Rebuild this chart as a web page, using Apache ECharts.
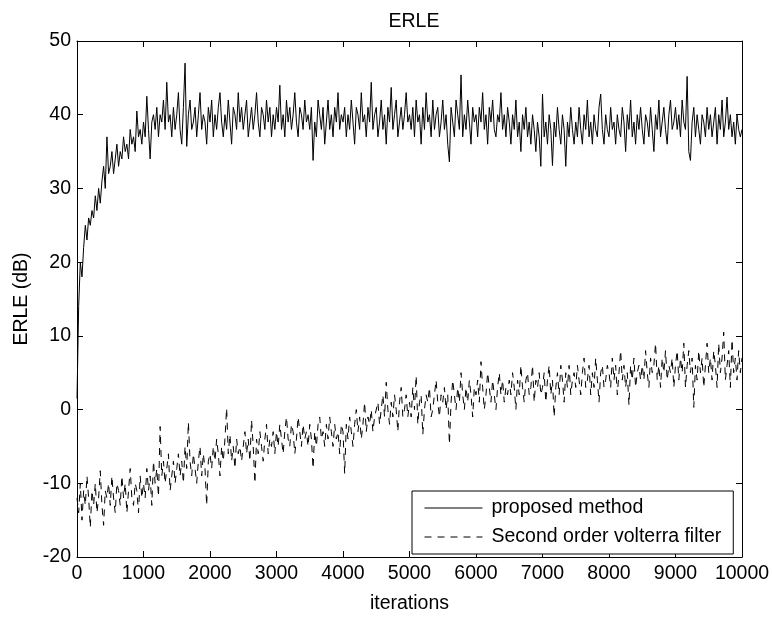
<!DOCTYPE html>
<html>
<head>
<meta charset="utf-8">
<script src="https://cdn.jsdelivr.net/npm/echarts@6/dist/echarts.min.js"></script>
<style>html,body{margin:0;padding:0;background:#fff}#c{width:773px;height:619px}</style>
</head>
<body>
<div id="c"></div>
<script>
// sampling step of the iterations axis
var iterStep = 25;
// proposed method ERLE (dB), one value every 25 iterations, 0..10000
var proposed = [
1.5,14,20,18,22,25,23,26,25,27,26,29,27,30,28,31,33,30,37,32,
33,35,32,34,36,33,35,34,37,35,36,34,38,36,37,35,40.5,37,38,36,
39,37,42.5,38,34,39,40,38,41,37,40,39,42,38,44.4,39,40,37,41,38,
40,43,38,36,41,47,35.7,40,42,38,39,41,37,40,43,38,40,39,36,41,
39,42,37,40,38,41,43,39,37,40,38,42,39,36,41,40,38,43,39,41,
38,40,42,37,39,41,38,40,43,39,37,41,40,38,42,39,41,37,40,38,
41,39,44,38,40,37,42,39,41,38,40,43,39,37,41,40,38,42,39,40,
38,41,33.8,39,37,42,40,38,41,36,39,42,38,40,37,41,39,43,38,40,
39,41,37,40,38,42,39,36,41,40,38,43,39,40,37,41,39,44.4,38,40,
41,37,39,42,38,40,36,41,39,43.7,38,40,42,37,39,41,38,40,43,39,
40,38,41,37,42,39,40,36,41,38,43,39,40,37,42,38,40,41,37,39,
42,38,40,36,33.6,41,39,37,42,40,38,45.4,37,40,38,42,39,36,41,39,
40,37,41,39,43,38,40,36,41,39,42,38,37,40,39,43,38,40,37,41,
39,36,40,38,42,37,39,35,40,38,41,37,39,36,40,38,35,39,37,33,
42.8,37,39,36,40,38,33.1,39,37,41,38,36,40,38,33,39,37,41,38,36,
39,37,41,38,36,40,38,42,37,39,36,40,38,37,41,42.8,38,36,40,38,
37,41,38,39,36,40,38,37,41,39,35,40,38,42,37,39,36,40,38,41,
38,36,40,39,37,41,38,35,40,38,42,37,39,41,38,36,40,42,38,39,
41,38,40,37,42,39,38,45.2,35,33.8,39,41,37,40,38,36,40,39,37,41,
38,40,37,39,41,36,40,38,42,37,39,42.4,38,40,37,39,36,40,38,37,
38
];
// second order volterra filter ERLE (dB), same sampling
var volterra = [
-12,-14,-10,-15,-11,-13,-9,-12,-16,-11,-13,-10,-14,-12,-8.3,-13,-15.7,-11,-12,-10,
-13,-9,-12,-14,-10,-11,-13,-9,-12,-10,-14,-11,-8,-12,-13,-10,-11,-14,-9,-12,
-10,-12,-8,-11,-9,-13,-7,-10,-8,-11.8,-2.3,-9,-7,-10,-8,-6,-11,-9,-7,-10,
-8,-6,-9,-7,-10,-5,-8,-1.7,-7,-9,-6,-8,-10,-7,-5,-9,-6,-8,-13,-7,
-6,-8,-5,-7,-4,-6,-9,-5,-7,-4,0.2,-6,-3.4,-7,-5,-8,-4,-6,-5,-7,
-5,-3,-6,-4,-7,-1.4,-5,-10,-4,-6,-3,-5,-7,-4,-2,-6,-4,-5,-3,-6,
-3,-5,-2,-4,-6,-3,-1,-4,-5,-2,-3,-6,-4,-1,-3,-5,-2,-4,-3,-5,
-2,-4,-8,-3,-5,-2,-1,-4,-3,-5,-2,-4,-1,-3,-5,-2,-4,-3,-6,-2,
-3,-8.7,-2,-4,-1,-3,-5,-2,0,-3,-1,-4,-2,1,-3,-1,-2,0,-3,-1,
-1,1,-2,0,2,-1,3.7,0,-2,1,-1,2,0,-3,1,3,-1,0,2,-1,
1,-1,3,0,4.6,-2,1,2,-3.4,0,2,1,3,-1,0,2,4,1,-1,2,
1,3,0,2,-4.7,1,4,2,0,3,1,5,2,0,3,1,4,2,-1,3,
2,4,1,6.5,3,0,2,5,3,1,4,2,0,3,5,2,4,1,3,2,
4,2,5,3,0,4,2,6,3,1,4,5,2,3,6,1,4,3,5,2,
3,5,1,4,6,2,4,-1,3,5,2,6,4,1,5,3,6,2,4,5,
3,6,4,2,5,7,3,4,6,2,5,3,7,4,1,5,6,3,4,6,
5,3,7,4,6,2,5,8,4,6,3,5,0.6,6,4,7,3,5,6,4,
6,4,8,5,3,7,5,6,9,4,6,3,7,5,8,4,6,5,7,3,
6,8,4,7,5,9,3,6,8,5,7,0.3,6,4,8,5,7,3,6,9,
5,7,4,8,6,3,9,5,7,10.5,4,6,8,3,9.5,5,7,4,8,5,
7
];
var seriesNames = ['proposed method', 'Second order volterra filter'];
var titleText = 'ERLE';
var xName = 'iterations';
var yName = 'ERLE (dB)';

function pairs(arr){ return arr.map(function(v,i){ return [i*iterStep, v]; }); }

var FONT = '"Liberation Sans", Arial, sans-serif';
var chart = echarts.init(document.getElementById('c'), null, {renderer:'canvas'});
var axisLineStyle = {color:'#000', width:1};
chart.setOption({
  animation:false,
  backgroundColor:'#fff',
  title:{text:titleText, left:409, top:7, textAlign:'center',
    textStyle:{fontFamily:FONT, fontSize:19.5, fontWeight:'normal', color:'#000'}},
  grid:{left:77, right:31, top:41, bottom:55, show:false},
  legend:{
    orient:'vertical', left:412, top:491,
    data:seriesNames,
    backgroundColor:'#fff', borderColor:'#000', borderWidth:1, borderRadius:0,
    padding:[7,12,7,12], itemGap:9, itemWidth:58, itemHeight:20,
    itemStyle:{opacity:0},
    lineStyle:{width:1},
    textStyle:{fontFamily:FONT, fontSize:19.5, color:'#000', padding:[0,0,0,4]}
  },
  xAxis:[{
    type:'value', min:0, max:10000, interval:1000, position:'bottom',
    name:xName, nameLocation:'middle', nameGap:37,
    nameTextStyle:{fontFamily:FONT, fontSize:19.5, color:'#000'},
    axisLine:{show:true, onZero:false, lineStyle:axisLineStyle},
    axisTick:{show:true, inside:true, length:6, lineStyle:axisLineStyle},
    axisLabel:{fontFamily:FONT, fontSize:19.5, color:'#000', margin:7,
      formatter:function(v){ return String(v); }},
    splitLine:{show:false}
  },{
    type:'value', min:0, max:10000, interval:1000, position:'top',
    axisLine:{show:true, onZero:false, lineStyle:axisLineStyle},
    axisTick:{show:true, inside:true, length:6, lineStyle:axisLineStyle},
    axisLabel:{show:false}, splitLine:{show:false}
  }],
  yAxis:[{
    type:'value', min:-20, max:50, interval:10, position:'left',
    name:yName, nameLocation:'middle', nameGap:45,
    nameTextStyle:{fontFamily:FONT, fontSize:19.5, color:'#000'},
    axisLine:{show:true, onZero:false, lineStyle:axisLineStyle},
    axisTick:{show:true, inside:true, length:6, lineStyle:axisLineStyle},
    axisLabel:{fontFamily:FONT, fontSize:19.5, color:'#000', margin:6},
    splitLine:{show:false}
  },{
    type:'value', min:-20, max:50, interval:10, position:'right',
    axisLine:{show:true, onZero:false, lineStyle:axisLineStyle},
    axisTick:{show:true, inside:true, length:6, lineStyle:axisLineStyle},
    axisLabel:{show:false}, splitLine:{show:false}
  }],
  series:[{
    name:seriesNames[0], type:'line', xAxisIndex:0, yAxisIndex:0,
    data:pairs(proposed), symbol:'none', showSymbol:false,
    lineStyle:{color:'#000', width:1},
    itemStyle:{color:'#000'}
  },{
    name:seriesNames[1], type:'line', xAxisIndex:0, yAxisIndex:0,
    data:pairs(volterra), symbol:'none', showSymbol:false,
    lineStyle:{color:'#000', width:1, type:[7,6]},
    itemStyle:{color:'#000'}
  }]
});
</script>
</body>
</html>
